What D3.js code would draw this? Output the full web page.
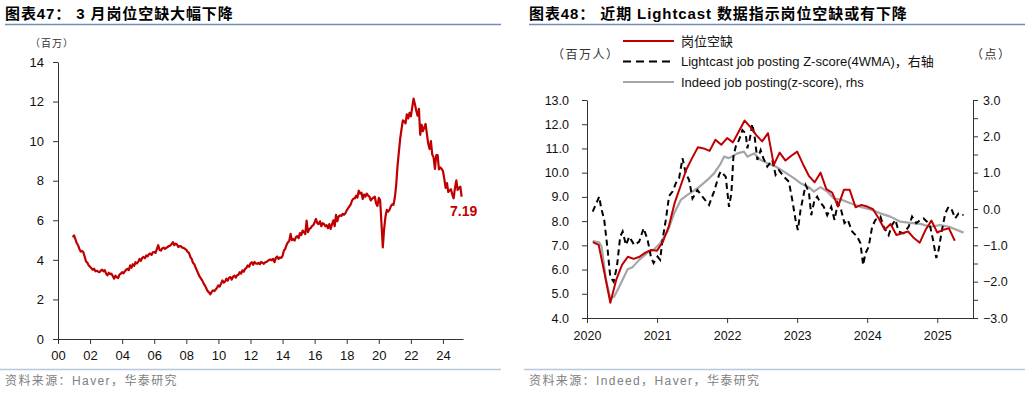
<!DOCTYPE html>
<html>
<head>
<meta charset="utf-8">
<script src="https://cdn.jsdelivr.net/npm/d3@7"></script>
<style>
  body { margin: 0; background: #fff; }
  svg text { font-family: "Liberation Sans", Arial, "Noto Sans CJK SC", sans-serif; }
</style>
</head>
<body>
<svg id="chart" width="1030" height="393"></svg>
<script>
// job openings, monthly, millions, from Dec 2000
const joStart = 2000 + 11 / 12;
const joValues = [
  5.15,
  5.24, 5.05, 4.85, 4.74, 4.55, 4.42, 4.45, 4.38, 4.15, 3.92, 3.85, 3.72,
  3.65, 3.58, 3.5, 3.55, 3.42, 3.45, 3.4, 3.38, 3.45, 3.5, 3.42, 3.48,
  3.3, 3.22, 3.35, 3.28, 3.3, 3.18, 3.05, 3.2, 3.12, 3.08, 3.25, 3.3,
  3.38, 3.32, 3.42, 3.5, 3.55, 3.48, 3.72, 3.6, 3.78, 3.7, 3.88, 3.82,
  3.9, 4.05, 3.95, 4.1, 4.15, 4.08, 4.22, 4.18, 4.28, 4.32, 4.25, 4.38,
  4.4, 4.35, 4.55, 4.74, 4.5, 4.47, 4.58, 4.62, 4.55, 4.6, 4.65, 4.7,
  4.72, 4.8, 4.9, 4.74, 4.82, 4.78, 4.65, 4.7, 4.68, 4.62, 4.6, 4.55,
  4.5, 4.4, 4.35, 4.15, 4.05, 3.85, 3.78, 3.6, 3.45, 3.3, 3.15, 3.05,
  2.95, 2.8, 2.7, 2.55, 2.42, 2.35, 2.26, 2.38, 2.46, 2.42, 2.5, 2.6,
  2.71, 2.65, 2.8, 2.96, 2.85, 2.9, 3.05, 2.95, 3.1, 3.13, 3.0, 3.15,
  3.2, 3.1, 3.22, 3.25, 3.38, 3.3, 3.47, 3.4, 3.55, 3.6, 3.72, 3.65,
  3.82, 3.88, 3.75, 3.9, 3.82, 3.8, 3.85, 3.78, 3.9, 3.85, 3.8, 3.88,
  3.9, 3.95, 4.0, 4.02, 3.98, 4.05, 3.88, 4.1, 4.17, 4.05, 4.12, 4.1,
  4.2, 4.47, 4.55, 4.75, 4.89, 4.95, 5.31, 5.0, 5.05, 4.97, 5.15, 5.2,
  5.1, 5.35, 5.25, 5.48, 5.4, 5.3, 5.98, 5.4, 5.55, 5.6, 5.7, 5.75,
  5.9, 6.07, 5.85, 5.81, 5.95, 5.7, 5.85, 5.81, 5.7, 5.75, 5.6, 5.81,
  5.56, 5.8, 6.0, 5.7, 6.27, 5.95, 6.2, 6.25, 6.22, 6.32, 6.28, 6.35,
  6.5, 6.6, 6.7, 6.8, 7.0, 7.1, 7.1, 7.24, 7.15, 7.5, 7.35, 7.4,
  7.08, 7.3, 7.2, 7.35, 7.25, 7.2, 7.0, 7.1, 7.15, 7.2, 6.85, 6.73,
  7.13, 7.02, 5.85, 4.63, 5.57, 6.19, 6.53, 6.44, 6.53, 6.7, 6.81, 6.78,
  7.15, 7.77, 8.74, 9.43, 10.12, 10.6, 11.05, 11.0, 10.9, 11.36, 11.15, 11.43,
  11.25, 11.7, 12.15, 11.88, 11.55, 11.29, 11.63, 10.32, 10.83, 10.5, 10.7, 10.87,
  10.35, 9.87, 9.6, 10.0, 9.32, 9.18, 8.6, 9.29, 9.29, 8.57, 8.67, 8.6,
  8.49, 8.1, 7.64, 7.88, 7.43, 7.5, 7.57, 7.3, 7.11, 7.64, 8.02, 7.53,
  7.64, 7.7, 7.19
];

// Lightcast job posting z-score (4WMA), right axis
const lcTime = [
  2020.081, 2020.175, 2020.199, 2020.246, 2020.295, 2020.332, 2020.380, 2020.427, 2020.474, 2020.509,
  2020.556, 2020.603, 2020.674, 2020.745, 2020.808, 2020.865, 2020.912, 2020.950, 2021.007, 2021.044,
  2021.078, 2021.125, 2021.172, 2021.221, 2021.268, 2021.315, 2021.363, 2021.410, 2021.457, 2021.506,
  2021.577, 2021.648, 2021.742, 2021.813, 2021.885, 2021.909, 2021.980, 2022.027, 2022.061, 2022.090,
  2022.123, 2022.170, 2022.218, 2022.265, 2022.289, 2022.326, 2022.360, 2022.393, 2022.432, 2022.479,
  2022.517, 2022.574, 2022.645, 2022.692, 2022.739, 2022.811, 2022.882, 2022.930, 2022.977, 2023.010,
  2023.048, 2023.120, 2023.167, 2023.201, 2023.248, 2023.286, 2023.323, 2023.380, 2023.429, 2023.486,
  2023.533, 2023.580, 2023.628, 2023.675, 2023.722, 2023.785, 2023.856, 2023.903, 2023.942, 2023.974,
  2024.021, 2024.070, 2024.117, 2024.188, 2024.235, 2024.306, 2024.355, 2024.402, 2024.449, 2024.520,
  2024.591, 2024.640, 2024.701, 2024.758, 2024.805, 2024.853, 2024.900, 2024.939, 2024.986, 2025.019,
  2025.067, 2025.114, 2025.161, 2025.209, 2025.256, 2025.303, 2025.375
];
const lcValues = [
  -0.07, 0.34, 0.06, -0.30, -1.13, -1.86, -2.00, -1.59, -0.76, -0.62,
  -0.99, -0.76, -0.99, -0.90, -0.53, -0.85, -1.31, -1.49, -1.31, -1.40,
  -0.85, -0.30, 0.36, 0.48, 0.71, 0.85, 1.40, 0.98, 0.80, 0.29,
  0.52, 0.34, 0.11, 0.48, 0.94, 1.03, 0.89, 0.06, 0.43, 1.44,
  1.72, 1.90, 2.17, 2.08, 1.67, 1.95, 2.34, 1.99, 1.35, 1.62,
  1.40, 1.17, 1.35, 0.94, 1.07, 0.89, 0.75, 0.25, -0.30, -0.58,
  -0.03, 0.66, 0.48, -0.17, 0.25, 0.34, 0.20, 0.06, -0.17, 0.06,
  -0.30, 0.16, -0.03, -0.39, -0.30, -0.62, -0.76, -0.94, -1.54, -1.22,
  -1.04, -0.49, -0.30, -0.21, -0.49, -0.72, -0.44, -0.30, -0.62, -0.67,
  -0.49, -0.21, -0.39, -0.30, -0.26, -0.35, -0.49, -0.85, -1.35, -1.13,
  -0.58, -0.12, 0.06, -0.03, -0.26, -0.12, -0.17
];

// Indeed job posting z-score, right axis
const inTime = [
  2020.081, 2020.175, 2020.209, 2020.271, 2020.332, 2020.389, 2020.460, 2020.580, 2020.651, 2020.745,
  2020.865, 2020.959, 2021.044, 2021.150, 2021.244, 2021.339, 2021.434, 2021.577, 2021.719, 2021.813,
  2021.908, 2021.956, 2022.027, 2022.147, 2022.241, 2022.289, 2022.383, 2022.479, 2022.574, 2022.692,
  2022.811, 2022.953, 2023.048, 2023.167, 2023.238, 2023.333, 2023.429, 2023.523, 2023.642, 2023.761,
  2023.903, 2024.046, 2024.188, 2024.330, 2024.473, 2024.615, 2024.758, 2024.900, 2025.043, 2025.185,
  2025.375
];
const inValues = [
  -0.88, -0.92, -1.04, -1.95, -2.46, -2.41, -2.14, -1.66, -1.60, -1.40,
  -1.20, -1.11, -0.94, -0.62, -0.12, 0.25, 0.39, 0.57, 0.80, 0.98,
  1.25, 1.44, 1.40, 1.53, 1.58, 1.44, 1.53, 1.35, 1.26, 1.17,
  1.03, 0.85, 0.71, 0.60, 0.48, 0.60, 0.48, 0.29, 0.25, 0.16,
  0.06, -0.01, -0.12, -0.21, -0.35, -0.38, -0.41, -0.49, -0.44, -0.50,
  -0.65
];

const leftYTicks = [0, 2, 4, 6, 8, 10, 12, 14];
const leftXTicks = [2000, 2002, 2004, 2006, 2008, 2010, 2012, 2014, 2016, 2018, 2020, 2022, 2024];
const rightYTicks = [4, 5, 6, 7, 8, 9, 10, 11, 12, 13];
const rhsTicks = [-3, -2.5, -2, -1.5, -1, -0.5, 0, 0.5, 1, 1.5, 2, 2.5, 3];
const rightXTicks = [2020, 2021, 2022, 2023, 2024, 2025];

const RED = "#C00000", GRAY = "#A6A6A6", AXIS = "#333";
const svg = d3.select("#chart");

// titles and sources
function frame(x0, x1, title, source) {
  svg.append("text").attr("x", x0).attr("y", 19)
    .attr("font-size", 15).attr("font-weight", "bold").attr("fill", "#000")
    .attr("letter-spacing", 0.9)
    .text(title);
  svg.append("line").attr("x1", x0).attr("x2", x1).attr("y1", 24.5).attr("y2", 24.5)
    .attr("stroke", "#6F8FB8").attr("stroke-width", 1.3);
  svg.append("line").attr("x1", x0 - 5).attr("x2", x1).attr("y1", 369.5).attr("y2", 369.5)
    .attr("stroke", "#B7C8DF").attr("stroke-width", 1.5);
  svg.append("text").attr("x", x0).attr("y", 385)
    .attr("font-size", 12).attr("fill", "#808080").attr("letter-spacing", 1.4).text(source);
}
frame(5, 501, "图表47： 3 月岗位空缺大幅下降", "资料来源：Haver，华泰研究");
frame(529, 1025, "图表48： 近期 Lightcast 数据指示岗位空缺或有下降", "资料来源：Indeed，Haver，华泰研究");

function styleAxis(g, size) {
  g.select(".domain").attr("stroke", AXIS);
  g.selectAll(".tick line").attr("stroke", AXIS);
  g.selectAll("text").attr("font-size", size).attr("fill", "#111")
    .style("font-family", '"Liberation Sans", Arial, sans-serif');
}

// ---------- left chart ----------
const xA = d3.scaleLinear().domain([2000, 2025.25]).range([58, 463]);
const yA = d3.scaleLinear().domain([0, 14]).range([339, 62]);

svg.append("g").attr("transform", "translate(58,0)")
  .call(d3.axisLeft(yA).tickValues(leftYTicks).tickSize(5).tickSizeOuter(0).tickPadding(9))
  .call(g => styleAxis(g, 13));
svg.append("g").attr("transform", "translate(0,339)")
  .call(d3.axisBottom(xA).tickValues(leftXTicks).tickSize(5).tickSizeOuter(0).tickPadding(7)
    .tickFormat(d => String(d % 100).padStart(2, "0")))
  .call(g => styleAxis(g, 13));

svg.append("text").attr("x", 30).attr("y", 47).attr("font-size", 10).attr("fill", "#333")
  .attr("letter-spacing", 1).text("（百万）");

const leftLine = d3.line().x((d, i) => xA(joStart + i / 12)).y(d => yA(d));
svg.append("path").datum(joValues).attr("d", leftLine)
  .attr("fill", "none").attr("stroke", RED).attr("stroke-width", 2.2).attr("stroke-linejoin", "round");

const lastI = joValues.length - 1;
svg.append("text")
  .attr("x", xA(joStart + lastI / 12) + 2).attr("y", yA(joValues[lastI]) + 19)
  .attr("text-anchor", "middle").attr("font-size", 14).attr("font-weight", "bold")
  .attr("fill", RED).text(joValues[lastI].toFixed(2));

// ---------- right chart ----------
const xB = d3.scaleLinear().domain([2020, 2025.51]).range([587, 973]);
const yB = d3.scaleLinear().domain([4, 13]).range([318, 100]);
const yR = d3.scaleLinear().domain([-3, 3]).range([318, 100]);

svg.append("g").attr("transform", "translate(587,0)")
  .call(d3.axisLeft(yB).tickValues(rightYTicks).tickSize(5).tickSizeOuter(0).tickPadding(13)
    .tickFormat(d3.format(".1f")))
  .call(g => styleAxis(g, 12.5));
svg.append("g").attr("transform", "translate(973,0)")
  .call(d3.axisRight(yR).tickValues(rhsTicks).tickSize(5).tickSizeOuter(0).tickPadding(5)
    .tickFormat(d => Number.isInteger(d) ? d3.format(".1f")(d) : ""))
  .call(g => styleAxis(g, 12.5));
svg.append("g").attr("transform", "translate(0,318)")
  .call(d3.axisBottom(xB).tickValues(rightXTicks).tickSize(5).tickSizeOuter(0).tickPadding(8)
    .tickFormat(d3.format("d")))
  .call(g => styleAxis(g, 12.5));

svg.append("text").attr("x", 552).attr("y", 59).attr("font-size", 12).attr("fill", "#333")
  .attr("letter-spacing", 1.5).text("（百万人）");
svg.append("text").attr("x", 971).attr("y", 59).attr("font-size", 12).attr("fill", "#333")
  .attr("letter-spacing", 1.5).text("（点）");

const joRight = joValues.map((v, i) => [joStart + (i + 1) / 12, v]).filter(d => d[0] > 2020);
const lineB = d3.line().x(d => xB(d[0])).y(d => yB(d[1]));
const lineR = d3.line().x(d => xB(d[0])).y(d => yR(d[1]));

svg.append("path").datum(inTime.map((t, i) => [t, inValues[i]])).attr("d", lineR)
  .attr("fill", "none").attr("stroke", GRAY).attr("stroke-width", 2.2).attr("stroke-linejoin", "round");
svg.append("path").datum(lcTime.map((t, i) => [t, lcValues[i]])).attr("d", lineR)
  .attr("fill", "none").attr("stroke", "#000").attr("stroke-width", 2)
  .attr("stroke-dasharray", "6,4");
svg.append("path").datum(joRight).attr("d", lineB)
  .attr("fill", "none").attr("stroke", RED).attr("stroke-width", 2).attr("stroke-linejoin", "round");

// legend
const legend = [
  { label: "岗位空缺", color: RED, dash: null },
  { label: "Lightcast job posting Z-score(4WMA)，右轴", color: "#000", dash: "8,5" },
  { label: "Indeed job posting(z-score), rhs", color: GRAY, dash: null }
];
legend.forEach((d, i) => {
  const y = 41 + i * 20.5;
  svg.append("line").attr("x1", 623).attr("x2", 674).attr("y1", y).attr("y2", y)
    .attr("stroke", d.color).attr("stroke-width", 2.2).attr("stroke-dasharray", d.dash);
  svg.append("text").attr("x", 681).attr("y", y + 4.5).attr("font-size", 13).attr("fill", "#111")
    .text(d.label);
});
</script>
</body>
</html>
